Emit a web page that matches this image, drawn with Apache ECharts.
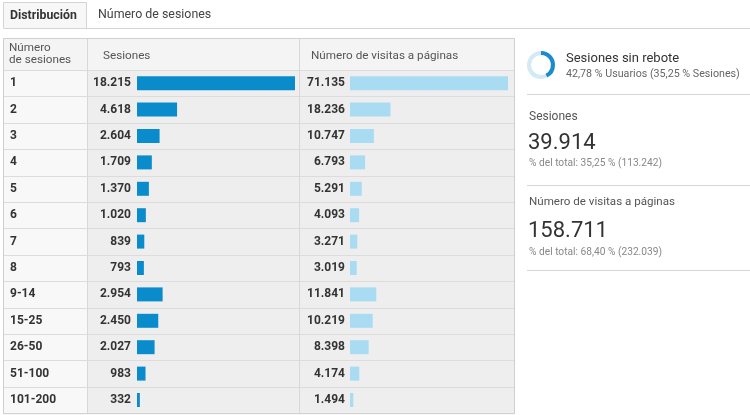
<!DOCTYPE html>
<html>
<head>
<meta charset="utf-8">
<script src="https://cdn.jsdelivr.net/npm/echarts@6/dist/echarts.min.js"></script>
<style>
  html, body { margin: 0; padding: 0; background: #ffffff; }
  #chart { width: 750px; height: 415px; }
</style>
</head>
<body>
<div id="chart"></div>
<script>
// Distribution of sessions by session count
const categories = ['1', '2', '3', '4', '5', '6', '7', '8', '9-14', '15-25', '26-50', '51-100', '101-200'];
const sesiones = [18215, 4618, 2604, 1709, 1370, 1020, 839, 793, 2954, 2450, 2027, 983, 332];
const visitas = [71135, 18236, 10747, 6793, 5291, 4093, 3271, 3019, 11841, 10219, 8398, 4174, 1494];

// Summary panel figures
const sinRebotePct = 42.78;
const resumenSesiones = 39914;
const resumenVisitas = 158711;

const fmt = v => String(v).replace(/\B(?=(\d{3})+(?!\d))/g, '.');

// Table geometry
const FONT = 'Roboto, "Noto Sans", sans-serif';
const X0 = 3, X1 = 87, X2 = 299, X3 = 515;
const HEAD_TOP = 38, ROW_TOP = 70, ROW_H = 26.4;
const N = categories.length;
const TABLE_BOTTOM = ROW_TOP + ROW_H * N;

const graphics = [];
const txt = (x, y, text, font, fill) => graphics.push({
  type: 'text', z: 5, x, y, style: { text, font: font + ' ' + FONT, fill, verticalAlign: 'middle' }
});

// Tabs
graphics.push({ type: 'rect', z: 0, shape: { x: 3.5, y: 2.5, width: 83, height: 26 },
  style: { fill: '#f7f7f7', stroke: '#d4d4d4', lineWidth: 1 } });
graphics.push({ type: 'line', z: 0, shape: { x1: 86.5, y1: 28.5, x2: 750, y2: 28.5 },
  style: { stroke: '#d4d4d4', lineWidth: 1 } });
txt(10, 16, 'Distribución', 'bold 12.3px', '#333');
txt(98, 15, 'Número de sesiones', '12.4px', '#444');

// Table backgrounds
graphics.push({ type: 'rect', z: 0, shape: { x: X0, y: HEAD_TOP, width: X3 - X0, height: ROW_TOP - HEAD_TOP },
  style: { fill: '#f4f4f4' } });
graphics.push({ type: 'rect', z: 0, shape: { x: X0, y: ROW_TOP, width: X1 - X0, height: TABLE_BOTTOM - ROW_TOP },
  style: { fill: '#f8f8f8' } });
graphics.push({ type: 'rect', z: 0, shape: { x: X1, y: ROW_TOP, width: X3 - X1, height: TABLE_BOTTOM - ROW_TOP },
  style: { fill: '#eeeeee' } });
for (let i = 0; i <= N; i++) {
  const y = Math.round(ROW_TOP + ROW_H * i) + 0.5;
  graphics.push({ type: 'line', z: 1, shape: { x1: X0, y1: y, x2: X3, y2: y },
    style: { stroke: '#dcdcdc', lineWidth: 1 } });
}
[X1, X2].forEach(x => {
  graphics.push({ type: 'line', z: 1, shape: { x1: x + 0.5, y1: HEAD_TOP, x2: x + 0.5, y2: TABLE_BOTTOM },
    style: { stroke: '#d8d8d8', lineWidth: 1 } });
});
graphics.push({ type: 'rect', z: 1, shape: { x: X0 + 0.5, y: HEAD_TOP + 0.5, width: X3 - X0 - 1, height: TABLE_BOTTOM - HEAD_TOP },
  style: { fill: 'none', stroke: '#d0d0d0', lineWidth: 1 } });

// Header texts
txt(9, 48, 'Número', '11.7px', '#555');
txt(9, 60, 'de sesiones', '11.7px', '#555');
txt(103, 56, 'Sesiones', '11.7px', '#555');
txt(311, 56, 'Número de visitas a páginas', '11.7px', '#555');

// Summary panel
txt(566, 59, 'Sesiones sin rebote', '13px', '#333');
txt(566, 74, '42,78 % Usuarios (35,25 % Sesiones)', '10.7px', '#666');
[94, 185, 270].forEach(y => {
  graphics.push({ type: 'line', z: 1, shape: { x1: 527, y1: y + 0.5, x2: 750, y2: y + 0.5 },
    style: { stroke: '#d6d6d6', lineWidth: 1 } });
});
txt(529, 117, 'Sesiones', '12px', '#555');
txt(528, 143, fmt(resumenSesiones), '22px', '#333');
txt(529, 163, '% del total: 35,25 % (113.242)', '10.2px', '#888');
txt(529, 202, 'Número de visitas a páginas', '11.6px', '#555');
txt(528, 231, fmt(resumenVisitas), '22px', '#333');
txt(529, 252, '% del total: 68,40 % (232.039)', '10.2px', '#888');

const chart = echarts.init(document.getElementById('chart'), null, { renderer: 'canvas' });

const valueAxis = gridIndex => ({
  type: 'value', gridIndex, min: 0, max: 'dataMax',
  show: false, splitLine: { show: false }
});
const catAxis = (gridIndex, showLabels) => ({
  type: 'category', gridIndex, data: categories, inverse: true,
  axisLine: { show: false }, axisTick: { show: false }, splitLine: { show: false },
  axisLabel: showLabels ? {
    show: true, align: 'left', margin: 127,
    fontFamily: FONT, fontSize: 12, fontWeight: 'bold', color: '#333'
  } : { show: false }
});
const barLabel = dist => ({
  show: true, position: 'left', distance: dist,
  formatter: p => fmt(p.value),
  fontFamily: FONT, fontSize: 12, fontWeight: 'bold', color: '#333'
});

chart.setOption({
  animation: false,
  textStyle: { fontFamily: FONT },
  grid: [
    { left: 137, width: 158, top: ROW_TOP, height: ROW_H * N },
    { left: 350, width: 158, top: ROW_TOP, height: ROW_H * N }
  ],
  xAxis: [valueAxis(0), valueAxis(1)],
  yAxis: [catAxis(0, true), catAxis(1, false)],
  series: [
    {
      name: 'Sesiones', type: 'bar', xAxisIndex: 0, yAxisIndex: 0, z: 3,
      data: sesiones, barWidth: 14, itemStyle: { color: '#0a8ccc' },
      label: barLabel(6)
    },
    {
      name: 'Número de visitas a páginas', type: 'bar', xAxisIndex: 1, yAxisIndex: 1, z: 3,
      data: visitas, barWidth: 14, itemStyle: { color: '#a9dcf2' },
      label: barLabel(5)
    },
    {
      name: 'Sesiones sin rebote', type: 'pie', center: [541, 65], radius: [10, 14],
      startAngle: 90, clockwise: true, silent: true,
      label: { show: false }, labelLine: { show: false },
      data: [
        { value: sinRebotePct, itemStyle: { color: '#1a8bcc' } },
        { value: 100 - sinRebotePct, itemStyle: { color: '#d3e9f6' } }
      ]
    }
  ],
  graphic: graphics
});
</script>
</body>
</html>
